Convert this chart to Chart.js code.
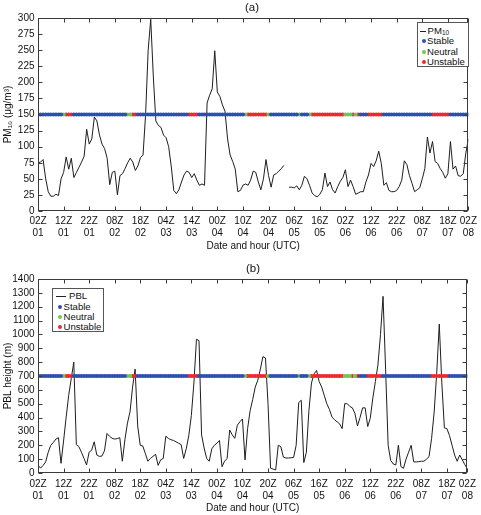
<!DOCTYPE html>
<html><head><meta charset="utf-8">
<script src="https://cdn.jsdelivr.net/npm/chart.js@4.4.0/dist/chart.umd.min.js"></script>
<style>
html,body{margin:0;padding:0;background:#fff;}
#wrap{position:relative;width:481px;height:515px;overflow:hidden;font-family:"Liberation Sans",Arial,sans-serif;color:#111;}
canvas{position:absolute;left:0;}
.ptitle{position:absolute;font-size:11.5px;line-height:13px;transform:translateX(-50%);white-space:nowrap;}
.legend{position:absolute;box-sizing:border-box;border:1px solid #555;background:#fff;font-size:9.6px;}
.legend .row{position:absolute;white-space:nowrap;line-height:10px;height:10px;}
.legend .ln{position:absolute;height:0;border-top:1px solid #222;top:5px;}
.legend .dot{position:absolute;width:4px;height:4px;border-radius:50%;top:3px;}
.legend sub{font-size:6.5px;vertical-align:-1px;line-height:0;}
</style>
</head><body>
<div id="wrap">
  <canvas id="cA" width="481" height="258" style="top:0"></canvas>
  <canvas id="cB" width="481" height="257" style="top:258px"></canvas>
  <div class="ptitle" style="left:252px;top:1px">(a)</div>
  <div class="ptitle" style="left:253px;top:262px">(b)</div>
  <div class="legend" style="left:417px;top:22px;width:52px;height:45px">
    <div class="row" style="top:3px;left:0"><span class="ln" style="left:2px;width:6px"></span><span style="position:absolute;left:9.5px">PM<sub>10</sub></span></div>
    <div class="row" style="top:13.3px;left:0"><span class="dot" style="left:4.3px;background:#2e4fb2"></span><span style="position:absolute;left:9px">Stable</span></div>
    <div class="row" style="top:23.7px;left:0"><span class="dot" style="left:4.3px;background:#72c653"></span><span style="position:absolute;left:9px">Neutral</span></div>
    <div class="row" style="top:34px;left:0"><span class="dot" style="left:4.3px;background:#f0282d"></span><span style="position:absolute;left:9px">Unstable</span></div>
  </div>
  <div class="legend" style="left:52px;top:288px;width:52px;height:44px">
    <div class="row" style="top:2.3px;left:0"><span class="ln" style="left:2.5px;width:10px"></span><span style="position:absolute;left:16px">PBL</span></div>
    <div class="row" style="top:13px;left:0"><span class="dot" style="left:5px;background:#2e4fb2"></span><span style="position:absolute;left:10.5px">Stable</span></div>
    <div class="row" style="top:22.7px;left:0"><span class="dot" style="left:5px;background:#72c653"></span><span style="position:absolute;left:10.5px">Neutral</span></div>
    <div class="row" style="top:33.3px;left:0"><span class="dot" style="left:5px;background:#f0282d"></span><span style="position:absolute;left:10.5px">Unstable</span></div>
  </div>
</div>
<script>
// ---- DATA (hourly, hour 0 = 02Z 01 ... hour 168 = 02Z 08) ----
const pm10 = [
  75,76,80,50,30,23,23,26,24,50,60,84,65,82,52,60,68,76,85,127,104,112,146,140,
  118,104,97,82,41,60,62,25,55,58,66,75,82,76,63,70,83,87,150,250,298,210,140,133,
  130,118,114,100,70,32,27,33,45,56,62,60,52,58,48,40,42,40,168,180,190,249,185,178,
  165,155,112,87,77,65,30,32,40,42,40,48,62,60,45,33,50,80,55,37,56,58,62,66,
  71,null,37,37,36,39,33,40,54,50,40,28,24,22,26,33,59,38,45,33,28,38,46,52,
  64,38,48,38,26,28,30,30,45,56,74,69,78,93,74,40,44,32,30,30,32,38,48,78,
  72,55,43,30,33,36,50,66,115,90,108,77,74,66,60,51,58,108,65,70,55,54,58,90,112
];
const pbl = [
  55,35,55,80,150,200,220,245,255,70,230,400,560,680,800,205,190,150,105,58,150,165,225,130,
  120,122,160,285,265,250,245,248,255,85,240,360,440,620,750,340,200,195,140,85,105,120,135,55,
  95,105,265,250,240,235,225,215,205,105,175,270,415,650,965,955,275,180,105,85,175,200,215,235,
  45,85,105,310,275,250,345,370,390,95,320,450,530,620,670,750,840,830,500,35,28,22,200,190,
  115,108,108,110,112,200,508,525,75,150,450,650,715,740,660,620,560,500,460,405,385,370,355,320,
  500,500,480,470,430,340,400,470,470,335,395,540,660,780,1000,1275,750,200,90,65,58,200,46,34,
  100,150,200,80,80,82,85,85,100,118,250,440,720,1075,650,325,320,270,200,130,85,130,95,60,30
];
// stability class per hour: S = Stable, N = Neutral, U = Unstable
const stability = (
  "SSSSSSSSSSNUUUSSSSSSSSSS" +
  "SSSSSSSSSSSNNUUSSSSSSSSS" +
  "SSSSSSSSSSSUUUUSSSSSSSSS" +
  "SSSSSSSSSNUUUUUUUUNSSSSS" +
  "SSSSSSNSSSNUUUUUUUUUUUUU" +
  "NNNUNUSSSUUUUUUSSSSSSSSS" +
  "SSSSSSSSSSUUUUUUUSSSSSSSS"
).split("");
const stabilityClasses = ["S","N","U"];
const stabilityNames = ["Stable","Neutral","Unstable"];
const pmBandLevel = 150;
const pblBandLevel = 700;
const tickHours = [0,10,20,30,40,50,60,70,80,90,100,110,120,130,140,150,160,168];
const tickLabels = [["02Z","01"],["12Z","01"],["22Z","01"],["08Z","02"],["18Z","02"],["04Z","03"],
  ["14Z","03"],["00Z","04"],["10Z","04"],["20Z","04"],["06Z","05"],["16Z","05"],["02Z","06"],
  ["12Z","06"],["22Z","06"],["08Z","07"],["18Z","07"],["02Z","08"]];
const pmTicks = [0,25,50,75,100,125,150,175,200,225,250,275,300];
const pblTicks = [0,100,200,300,400,500,600,700,800,900,1000,1100,1200,1300,1400];

// ---- STYLE ----
const FONT = "'Liberation Sans', Arial, sans-serif";
const classColors = {S:"#2e4fb2", N:"#72c653", U:"#f0282d"};

const boxPlugin = {
  id: "boxTicks",
  afterDraw(chart) {
    const {ctx, chartArea: a, scales: {x, y}} = chart;
    const L = Math.round(a.left) + 0.5, R = Math.round(a.right) - 0.5;
    const T = Math.round(a.top) + 0.5, B = Math.round(a.bottom) - 0.5;
    ctx.save();
    ctx.strokeStyle = "#3a3a3a";
    ctx.lineWidth = 1;
    ctx.strokeRect(L, T, R - L, B - T);
    ctx.beginPath();
    x.ticks.forEach(t => {
      const px = Math.round(x.getPixelForValue(t.value)) + 0.5;
      ctx.moveTo(px, B); ctx.lineTo(px, B - 4);
      ctx.moveTo(px, T); ctx.lineTo(px, T + 4);
    });
    y.ticks.forEach(t => {
      const py = Math.round(y.getPixelForValue(t.value)) + 0.5;
      ctx.moveTo(L, py); ctx.lineTo(L + 4, py);
      ctx.moveTo(R, py); ctx.lineTo(R - 4, py);
    });
    ctx.stroke();
    ctx.restore();
  }
};

function makeChart(id, o) {
  const datasets = [{
    type: "line",
    label: o.lineLabel,
    data: o.values.map((v, i) => ({x: i, y: v})),
    borderColor: "#1e1e1e",
    borderWidth: 1,
    pointRadius: 0,
    tension: 0,
    spanGaps: false,
    order: 2
  }].concat(stabilityClasses.map((c, k) => ({
    type: "scatter",
    label: stabilityNames[k],
    data: stability.map((s, i) => s === c ? {x: i, y: o.band} : null).filter(p => p),
    backgroundColor: classColors[c],
    borderWidth: 0,
    pointRadius: 2.1,
    order: 1
  })));
  return new Chart(document.getElementById(id), {
    type: "line",
    data: {datasets},
    options: {
      responsive: false,
      animation: false,
      devicePixelRatio: 1,
      layout: {padding: {left: 0, right: 7, top: o.padTop, bottom: o.padBottom}},
      plugins: {legend: {display: false}, tooltip: {enabled: false}, title: {display: false}},
      scales: {
        x: {
          type: "linear", min: 0, max: 168,
          afterBuildTicks: s => { s.ticks = tickHours.map(v => ({value: v})); },
          afterFit: s => { s.height = o.xHeight; },
          grid: {display: false, drawTicks: false},
          border: {display: false},
          ticks: {
            autoSkip: false, maxRotation: 0, minRotation: 0, padding: o.xPad, color: "#111",
            font: {family: FONT, size: 10, lineHeight: 1.2},
            callback: v => { const k = tickHours.indexOf(v); return k >= 0 ? tickLabels[k] : ""; }
          },
          title: {display: true, text: "Date and hour (UTC)", color: "#111",
            font: {family: FONT, size: 10, lineHeight: 1.2}, padding: {top: 0, bottom: 1}}
        },
        y: {
          type: "linear", min: 0, max: o.max,
          afterBuildTicks: s => { s.ticks = o.yTicks.map(v => ({value: v})); },
          afterFit: s => { s.width = 38; },
          grid: {display: false, drawTicks: false},
          border: {display: false},
          ticks: {autoSkip: false, padding: 3.5, color: "#111", font: {family: FONT, size: 10},
            callback: v => String(v)},
          title: {display: true, text: o.yTitle, color: "#111",
            font: {family: FONT, size: 10, lineHeight: 1.2}, padding: {top: 2, bottom: 0}}
        }
      }
    },
    plugins: [boxPlugin]
  });
}

makeChart("cA", {values: pm10, band: pmBandLevel, max: 300, yTicks: pmTicks, lineLabel: "PM10",
  yTitle: "PM\u2081\u2080 (\u03bcg/m\u00b3)", padTop: 18, padBottom: 5, xHeight: 42, xPad: 4});
makeChart("cB", {values: pbl, band: pblBandLevel, max: 1400, yTicks: pblTicks, lineLabel: "PBL",
  yTitle: "PBL height (m)", padTop: 21, padBottom: 0, xHeight: 42, xPad: 5});
</script>
</body></html>
